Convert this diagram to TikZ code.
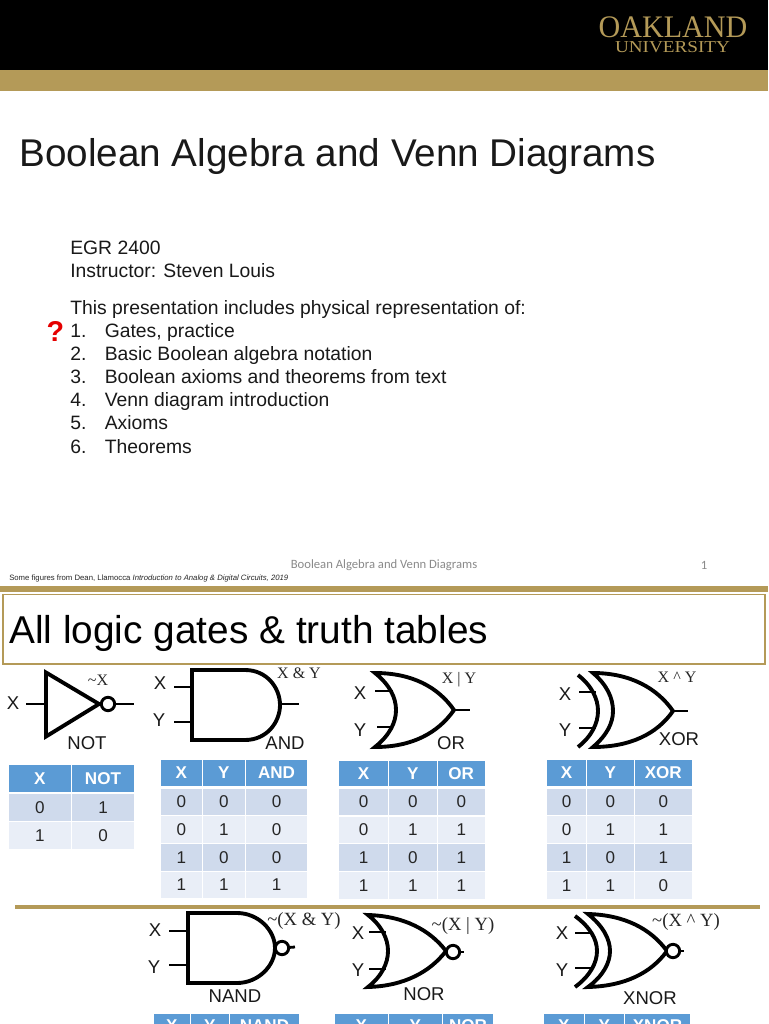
\documentclass[tikz,border=0pt]{standalone}
\usepackage{fontspec}
\setmainfont{Liberation Sans}
\newfontfamily\lserif{Liberation Serif}
\newfontfamily\ftfont{Carlito}
\definecolor{gold}{HTML}{B49A58}
\definecolor{hdblue}{HTML}{5B9BD5}
\definecolor{rowa}{HTML}{CFDAEC}
\definecolor{rowb}{HTML}{E9EEF7}
\definecolor{ftgray}{HTML}{8A8A8A}
\tikzset{
  hd/.style={fill=hdblue,text=white,font=\fontsize{12.8}{14}\selectfont\bfseries},
  ra/.style={fill=rowa,text=black!85,font=\fontsize{12.8}{14}\selectfont},
  rb/.style={fill=rowb,text=black!85,font=\fontsize{12.8}{14}\selectfont},
  body/.style={line width=2.9pt,line join=miter},
  wire/.style={line width=2.1pt},
  bubble/.style={circle,draw,line width=2.2pt,fill=white,minimum size=10pt,inner sep=0pt},
  lab/.style={inner sep=0pt,font=\fontsize{13.9}{15}\selectfont,text=black!90},
  slab/.style={inner sep=0pt,font=\lserif\fontsize{12}{14}\selectfont,text=black!85},
  slabb/.style={inner sep=0pt,font=\lserif\fontsize{14}{16}\selectfont,text=black!85},
  txt/.style={anchor=base west,inner sep=0pt,font=\fontsize{14.5}{17}\selectfont,text=black!90},
}
\newcommand\cell[7]{%
  \pgfmathsetmacro\cw{(#4-#2)*0.75}\pgfmathsetmacro\ch{(#5-#3)*0.75}%
  \node[#6,minimum width=\cw pt,minimum height=\ch pt,inner sep=0pt] (#1) at ({(#2+#4)/2},{(#3+#5)/2}) {#7};}
\newcommand\trow[5]{\foreach \a/\b/\t [count=\k] in {#5} {\cell{#1c\k}{\a}{#2}{\b}{#3}{#4}{\t}}}
\begin{document}
\begin{tikzpicture}[x=0.75pt,y=-0.75pt]
\useasboundingbox (0,0) rectangle (768,1024);
\clip (0,0) rectangle (768,1024);
\fill[white] (0,0) rectangle (768,1024);
% top slide
\fill[black] (0,0) rectangle (768,70);
\fill[gold] (0,70) rectangle (768,91);
\node[anchor=base,inner sep=0pt,text=gold,font=\lserif\fontsize{23.5}{24}\selectfont,xscale=0.96,transform shape] (logoa) at (673,37.5) {OAKLAND};
\node[anchor=base,inner sep=0pt,text=gold,font=\lserif\fontsize{12.5}{13}\selectfont,xscale=1.15,transform shape] (logob) at (672.5,52.5) {UNIVERSITY};
\node[anchor=base west,inner sep=0pt,font=\fontsize{29}{32}\selectfont,text=black!90] (title) at (19,166) {Boolean Algebra and Venn Diagrams};
\node[txt] (t1) at (70,254) {EGR 2400};
\node[txt] (t2) at (70,277) {Instructor: Steven Louis};
\node[txt] (t3) at (70,314) {This presentation includes physical representation of:};
\foreach \y/\n/\s [count=\i] in {337/1/{Gates, practice},360/2/{Basic Boolean algebra notation},383.5/3/{Boolean axioms and theorems from text},406.5/4/{Venn diagram introduction},429.5/5/Axioms,453/6/Theorems}{
  \node[txt] (n\i) at (70,\y) {\n.};
  \node[txt] (l\i) at (104.5,\y) {\s};
}
\node[inner sep=0pt,text=red!90!black,font=\fontsize{21.5}{24}\selectfont\bfseries] (qm) at (55.5,331) {?};
\node[inner sep=0pt,text=ftgray,font=\ftfont\fontsize{9.5}{11}\selectfont] (ft) at (384,565) {Boolean Algebra and Venn Diagrams};
\node[inner sep=0pt,text=ftgray,font=\ftfont\fontsize{9.5}{11}\selectfont] (pg) at (704,565) {1};
\node[anchor=base west,inner sep=0pt,text=black!85,font=\fontsize{5.8}{7}\selectfont] (note) at (9,580) {Some figures from Dean, Llamocca \textit{Introduction to Analog \& Digital Circuits, 2019}};
% second slide
\fill[gold] (0,586) rectangle (768,592);
\draw[gold,line width=1.1pt] (3,594.5) rectangle (765,664);
\node[anchor=base west,inner sep=0pt,font=\fontsize{29.1}{32}\selectfont,text=black] (title2) at (9,643) {All logic gates \& truth tables};
\fill[gold] (15,905) rectangle (760,909);
% NOT
\draw[body] (46,672.5) -- (46,736.5) -- (99,704) -- cycle;
\node[bubble] (notB) at (108,704) {};
\coordinate (notIn) at (26,704); \coordinate (notA) at (46,704); \coordinate (notOut) at (134,704);
\draw[wire] (notIn) -- (notA); \draw[wire] (notB) -- (notOut);
\node[lab] (lnx) at (13,703) {X};
\node[slab] (lnf) at (98,680) {\textasciitilde X};
\node[lab] (lnot) at (87,743) {NOT};
% AND
\draw[body] (192,670) -- (245,670) .. controls (267,670) and (280,688) .. (280,705) .. controls (280,722) and (267,740) .. (245,740) -- (192,740) -- cycle;
\coordinate (andA) at (174,687); \coordinate (andAe) at (192,687);
\coordinate (andB) at (174,722); \coordinate (andBe) at (192,722);
\coordinate (andO) at (280,704); \coordinate (andOe) at (299,704);
\draw[wire] (andA) -- (andAe); \draw[wire] (andB) -- (andBe); \draw[wire] (andO) -- (andOe);
\node[lab] (lax) at (160,683) {X};
\node[lab] (lay) at (159,720) {Y};
\node[slab] (laf) at (299,673) {X \& Y};
\node[lab] (land) at (285,743) {AND};
% OR
\draw[body] (375,673) .. controls (412,673) and (438,687) .. (454,710) .. controls (438,733) and (412,747) .. (375,747) .. controls (390,735) and (396,722) .. (396,710) .. controls (396,698) and (390,685) .. (375,673) -- cycle;
\coordinate (orA) at (375,691); \coordinate (orAe) at (393,691);
\coordinate (orB) at (377,727); \coordinate (orBe) at (393,727);
\coordinate (orO) at (454,710); \coordinate (orOe) at (470,710);
\draw[wire] (orA) -- (orAe); \draw[wire] (orB) -- (orBe); \draw[wire] (orO) -- (orOe);
\node[lab] (lox) at (360,693) {X};
\node[lab] (loy) at (360,730) {Y};
\node[slab] (lof) at (459,680) {X | Y};
\node[lab] (lor) at (451,743) {OR};
% XOR
\draw[body] (593,673) .. controls (630,673) and (657,688) .. (673,711) .. controls (657,734) and (630,747) .. (593,747) .. controls (607,735) and (613,723) .. (613,711) .. controls (613,698) and (607,685) .. (593,673) -- cycle;
\draw[body] (578,675) .. controls (592,686) and (598,699) .. (598,711) .. controls (598,723) and (592,736) .. (578,747);
\coordinate (xoA) at (579,692); \coordinate (xoAe) at (596,692);
\coordinate (xoB) at (579,728); \coordinate (xoBe) at (596,728);
\coordinate (xoO) at (673,711); \coordinate (xoOe) at (688,711);
\draw[wire] (xoA) -- (xoAe); \draw[wire] (xoB) -- (xoBe); \draw[wire] (xoO) -- (xoOe);
\node[lab] (lxx) at (565,694) {X};
\node[lab] (lxy) at (565,730) {Y};
\node[slab] (lxf) at (677,677) {X \textasciicircum{} Y};
\node[lab] (lxor) at (679,739) {XOR};
% NAND
\draw[body] (188,913) -- (237,913) .. controls (258,913) and (275,930) .. (275,948) .. controls (275,966) and (258,983) .. (237,983) -- (188,983) -- cycle;
\node[bubble] (ndB) at (282,948) {};
\coordinate (ndA) at (169,931); \coordinate (ndAe) at (188,931);
\coordinate (ndC) at (169,965); \coordinate (ndCe) at (188,965);
\coordinate (ndO) at (295,947);
\draw[wire] (ndA) -- (ndAe); \draw[wire] (ndC) -- (ndCe); \draw[wire] (ndB) -- (ndO);
\node[lab] (lnax) at (155,930) {X};
\node[lab] (lnay) at (154,967) {Y};
\node[slabb] (lnaf) at (304,921) {\textasciitilde(X \& Y)};
\node[lab] (lnand) at (235,996) {NAND};
% NOR
\draw[body] (368,915) .. controls (404,916) and (430,930) .. (446,951) .. controls (430,972) and (404,986) .. (368,987) .. controls (382,976) and (388,963) .. (388,951) .. controls (388,939) and (382,926) .. (368,915) -- cycle;
\node[bubble] (nrB) at (453,952) {};
\coordinate (nrA) at (369,932); \coordinate (nrAe) at (386,932);
\coordinate (nrC) at (369,969); \coordinate (nrCe) at (386,969);
\coordinate (nrO) at (464,952);
\draw[wire] (nrA) -- (nrAe); \draw[wire] (nrC) -- (nrCe); \draw[wire] (nrB) -- (nrO);
\node[lab] (lnrx) at (358,933) {X};
\node[lab] (lnry) at (358,970) {Y};
\node[slabb] (lnrf) at (463,926) {\textasciitilde(X | Y)};
\node[lab] (lnor) at (424,994) {NOR};
% XNOR
\draw[body] (588,914) .. controls (625,915) and (651,929) .. (667,951) .. controls (651,973) and (625,986) .. (588,987) .. controls (603,976) and (610,963) .. (610,951) .. controls (610,939) and (603,926) .. (588,914) -- cycle;
\draw[body] (575,916) .. controls (590,927) and (597,939) .. (597,951) .. controls (597,963) and (590,976) .. (575,987);
\node[bubble] (xnB) at (673,951) {};
\coordinate (xnA) at (575,933); \coordinate (xnAe) at (593,933);
\coordinate (xnC) at (575,968); \coordinate (xnCe) at (593,968);
\coordinate (xnO) at (684,951);
\draw[wire] (xnA) -- (xnAe); \draw[wire] (xnC) -- (xnCe); \draw[wire] (xnB) -- (xnO);
\node[lab] (lxnx) at (562,933) {X};
\node[lab] (lxny) at (562,970) {Y};
\node[slabb] (lxnf) at (686,922) {\textasciitilde(X \textasciicircum{} Y)};
\node[lab] (lxnor) at (650,998) {XNOR};
% tables
\trow{notH}{765}{792}{hd}{9/70.5/X,72/134/NOT}
\trow{notP}{794}{821}{ra}{9/70.5/0,72/134/1}
\trow{notQ}{822}{849}{rb}{9/70.5/1,72/134/0}
\trow{andH}{760}{786}{hd}{161/201.5/X,203/244.5/Y,246/307/AND}
\trow{andP}{789}{815}{ra}{161/201.5/0,203/244.5/0,246/307/0}
\trow{andQ}{816}{843}{rb}{161/201.5/0,203/244.5/1,246/307/0}
\trow{andR}{844}{871}{ra}{161/201.5/1,203/244.5/0,246/307/0}
\trow{andS}{872}{898}{rb}{161/201.5/1,203/244.5/1,246/307/1}
\trow{orH}{761}{786}{hd}{339/388/X,389/436.5/Y,437.5/485/OR}
\trow{orP}{789}{815}{ra}{339/388/0,389/436.5/0,437.5/485/0}
\trow{orQ}{817}{843}{rb}{339/388/0,389/436.5/1,437.5/485/1}
\trow{orR}{844}{871}{ra}{339/388/1,389/436.5/0,437.5/485/1}
\trow{orS}{872}{899}{rb}{339/388/1,389/436.5/1,437.5/485/1}
\trow{xoH}{760}{786}{hd}{547/586/X,587/633.5/Y,634.5/692/XOR}
\trow{xoP}{789}{815}{ra}{547/586/0,587/633.5/0,634.5/692/0}
\trow{xoQ}{816}{843}{rb}{547/586/0,587/633.5/1,634.5/692/1}
\trow{xoR}{844}{871}{ra}{547/586/1,587/633.5/0,634.5/692/1}
\trow{xoS}{872}{899}{rb}{547/586/1,587/633.5/1,634.5/692/0}
\trow{ndH}{1014}{1038}{hd}{154/189.5/X,191/228.5/Y,230/299/NAND}
\trow{nrH}{1014}{1038}{hd}{335/387.5/X,389/441.5/Y,443/493/NOR}
\trow{xnH}{1014}{1038}{hd}{544/583.5/X,585/623.5/Y,625/690/XNOR}
\end{tikzpicture}
\end{document}
